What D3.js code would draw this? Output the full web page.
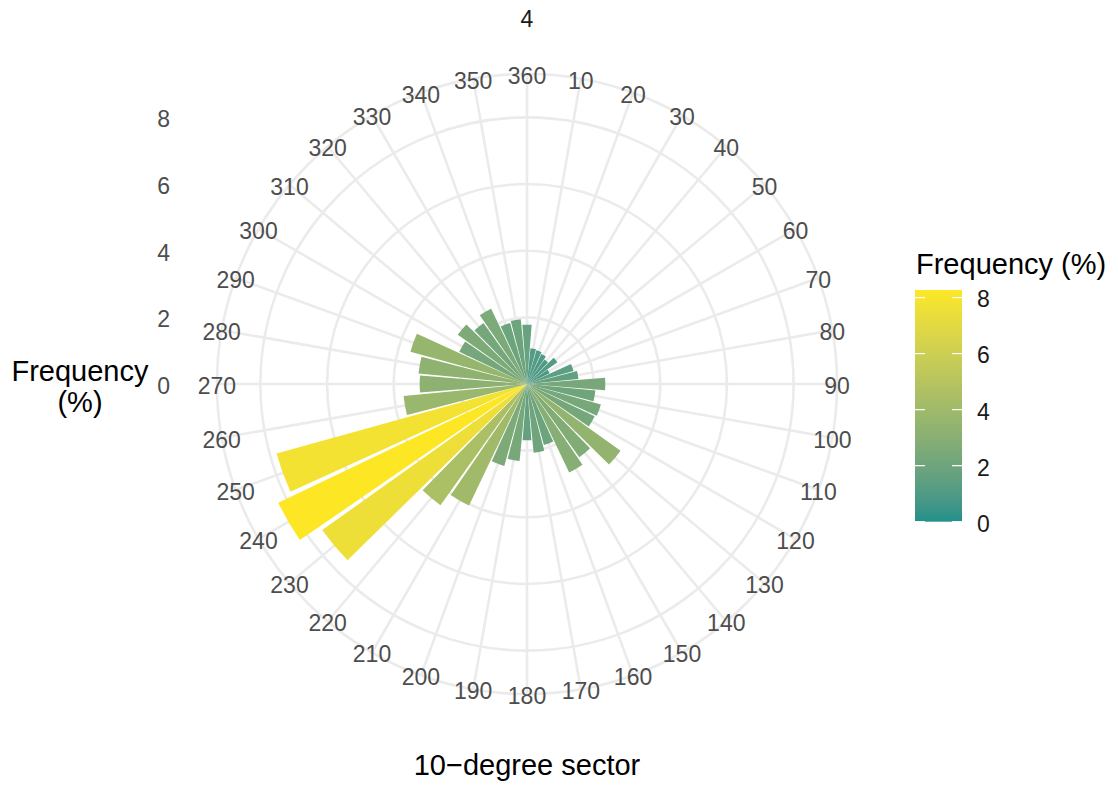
<!DOCTYPE html>
<html>
<head>
<meta charset="utf-8">
<script src="https://cdn.jsdelivr.net/npm/d3@7"></script>
<style>
  body { margin: 0; background: #fff; }
  text { font-family: "Liberation Sans", Arial, sans-serif; }
</style>
</head>
<body>
<div id="chart"></div>
<script>
// 10-degree sectors and frequency (%) per sector
const sectors = d3.range(10, 361, 10);
const frequency = [
  1.08, 1.05, 1.0, 0.9, 1.12, 0.75, 1.45, 1.55, 2.35,
  2.06, 2.3, 2.25, 3.45, 2.7, 2.94, 1.9, 2.07, 1.69,
  2.32, 2.55, 4.04, 4.47, 7.55, 8.27, 7.8, 3.72, 3.22,
  3.27, 3.63, 2.25, 2.55, 2.25, 2.5, 1.9, 1.95, 1.78
];
const radialTicks = [0, 2, 4, 6, 8];
const legendTicks = [0, 2, 4, 6, 8];
const facetLabel = "4";

const data = sectors.map((s, i) => ({ sector: s, freq: frequency[i] }));

const width = 1118, height = 788;
const cx = 527, cy = 384;
const panel = 689;               // polar panel side
const rMax = 0.4 * panel;        // data range
const rOuter = 0.45 * panel;     // outer circle / theta labels

const svg = d3.select("#chart").append("svg")
  .attr("width", width)
  .attr("height", height);

const maxFreq = d3.max(frequency);

const r = d3.scaleLinear().domain([0, maxFreq]).range([0, rMax]);

// band per sector; 10 is centred at 10 degrees, 360 at the top
const theta = d3.scaleBand()
  .domain(sectors)
  .range([5 * Math.PI / 180, 365 * Math.PI / 180])
  .paddingInner(0.1)
  .paddingOuter(0.05);

const color = d3.scaleLinear()
  .domain([0, maxFreq])
  .range(["#21908C", "#FDE725"])
  .interpolate(d3.interpolateLab);

const mid = (d) => theta(d) + theta.bandwidth() / 2;

const g = svg.append("g").attr("transform", `translate(${cx},${cy})`);

// grid: spokes and circles
g.selectAll(".spoke")
  .data(sectors)
  .join("line")
  .attr("class", "spoke")
  .attr("x1", 0).attr("y1", 0)
  .attr("x2", (d) => rOuter * Math.sin(mid(d)))
  .attr("y2", (d) => -rOuter * Math.cos(mid(d)))
  .attr("stroke", "#EBEBEB")
  .attr("stroke-width", 2.6);

g.selectAll(".ring")
  .data(radialTicks.filter((d) => d > 0).map((d) => r(d)).concat([rOuter]))
  .join("circle")
  .attr("class", "ring")
  .attr("r", (d) => d)
  .attr("fill", "none")
  .attr("stroke", "#EBEBEB")
  .attr("stroke-width", 2.6);

// bars
const arc = d3.arc()
  .innerRadius(0)
  .outerRadius((d) => r(d.freq))
  .startAngle((d) => theta(d.sector))
  .endAngle((d) => theta(d.sector) + theta.bandwidth());

g.selectAll(".bar")
  .data(data)
  .join("path")
  .attr("class", "bar")
  .attr("d", arc)
  .attr("fill", (d) => color(d.freq));

// theta labels sitting on the outer circle
g.selectAll(".theta-label")
  .data(sectors)
  .join("text")
  .attr("class", "theta-label")
  .attr("x", (d) => rOuter * Math.sin(mid(d)))
  .attr("y", (d) => -rOuter * Math.cos(mid(d)))
  .attr("dy", "0.43em")
  .attr("text-anchor", "middle")
  .attr("font-size", "23px")
  .attr("fill", "#4D4D4D")
  .text((d) => d);

// radial axis labels on the left
svg.selectAll(".r-label")
  .data(radialTicks)
  .join("text")
  .attr("class", "r-label")
  .attr("x", 170)
  .attr("y", (d) => cy - r(d))
  .attr("dy", "0.43em")
  .attr("text-anchor", "end")
  .attr("font-size", "23px")
  .attr("fill", "#4D4D4D")
  .text((d) => d);

// facet strip
svg.append("text")
  .attr("x", cx)
  .attr("y", 27)
  .attr("text-anchor", "middle")
  .attr("font-size", "23px")
  .attr("fill", "#1A1A1A")
  .text(facetLabel);

// axis titles
const yTitle = svg.append("text")
  .attr("text-anchor", "middle")
  .attr("font-size", "29px")
  .attr("fill", "#000");
yTitle.append("tspan").attr("x", 80).attr("y", 381).text("Frequency");
yTitle.append("tspan").attr("x", 80).attr("y", 412).text("(%)");

svg.append("text")
  .attr("x", cx)
  .attr("y", 775)
  .attr("text-anchor", "middle")
  .attr("font-size", "29px")
  .attr("fill", "#000")
  .text("10\u2212degree sector");

// colourbar legend
const legX = 915, legW = 47, legTop = 290, legBottom = 521.7;
const legScale = d3.scaleLinear().domain([0, maxFreq]).range([legBottom, legTop]);

const grad = svg.append("defs").append("linearGradient")
  .attr("id", "freq-grad")
  .attr("x1", 0).attr("y1", 1).attr("x2", 0).attr("y2", 0);
grad.selectAll("stop")
  .data(d3.range(0, 1.0001, 0.05))
  .join("stop")
  .attr("offset", (d) => d)
  .attr("stop-color", (d) => color(d * maxFreq));

svg.append("text")
  .attr("x", 916)
  .attr("y", 274)
  .attr("font-size", "29px")
  .attr("fill", "#000")
  .text("Frequency (%)");

svg.append("rect")
  .attr("x", legX)
  .attr("y", legTop)
  .attr("width", legW)
  .attr("height", legBottom - legTop)
  .attr("fill", "url(#freq-grad)");

const legTick = svg.selectAll(".leg-tick")
  .data(legendTicks)
  .join("g")
  .attr("class", "leg-tick")
  .attr("transform", (d) => `translate(0,${legScale(d)})`);

legTick.append("line")
  .attr("x1", legX).attr("x2", legX + 10)
  .attr("stroke", "#fff").attr("stroke-width", 1.2);
legTick.append("line")
  .attr("x1", legX + legW - 10).attr("x2", legX + legW)
  .attr("stroke", "#fff").attr("stroke-width", 1.2);
legTick.append("text")
  .attr("x", 977)
  .attr("dy", "0.43em")
  .attr("font-size", "23px")
  .attr("fill", "#1A1A1A")
  .text((d) => d);
</script>
</body>
</html>
